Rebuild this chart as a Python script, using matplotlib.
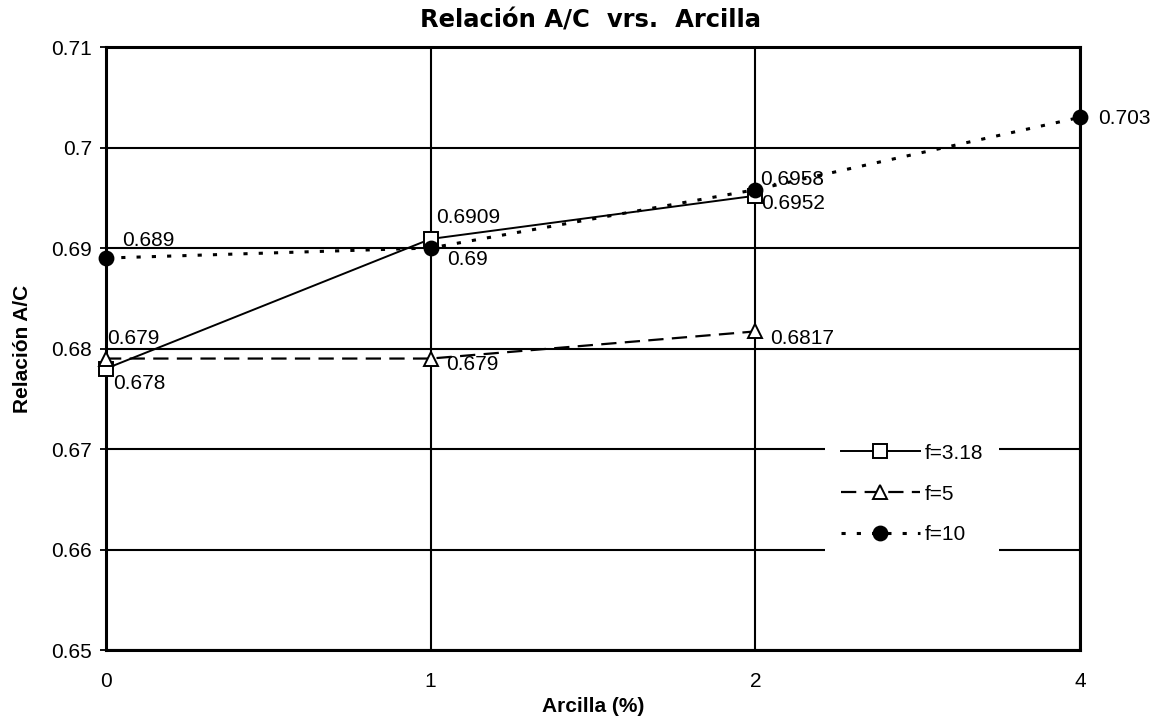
import matplotlib
matplotlib.use("Agg")
import matplotlib.pyplot as plt
from matplotlib.ticker import MultipleLocator, FuncFormatter

plt.rcParams["font.family"] = ["Liberation Sans", "DejaVu Sans"]
plt.rcParams["lines.scale_dashes"] = False

# clay content (%) and water/cement ratio for each fineness value
arcilla = ["0", "1", "2", "4"]
ac_f318 = [0.678, 0.6909, 0.6952]
ac_f5 = [0.679, 0.679, 0.6817]
ac_f10 = [0.689, 0.69, 0.6958, 0.703]

# where each value label sits relative to its marker (points)
offs_f318 = [(5, -14.4), (3.6, 11.5), (4.3, -9.4)]
offs_f5 = [(0.7, 10.8), (10.8, -7.9), (10.8, -9.4)]
offs_f10 = [(11.5, 8.6), (12.2, -12.2), (3.6, 3.6), (13, -5)]

series = [
    ("f=3.18", ac_f318, offs_f318, dict(ls="-", lw=1.4, marker="s", mfc="white")),
    ("f=5", ac_f5, offs_f5, dict(ls=(0, (11, 6)), lw=1.6, marker="^", mfc="white")),
    ("f=10", ac_f10, offs_f10, dict(ls=(0, (3, 8)), lw=2.2, marker="o", mfc="black")),
]

fig = plt.figure(figsize=(11.63, 7.19), dpi=100)
ax = fig.add_axes([106 / 1163, 69 / 719, 974 / 1163, 603 / 719])

for name, vals, offs, style in series:
    x = list(range(len(vals)))
    ax.plot(x, vals, color="black", ms=10, mec="black", mew=1.4,
            label=name, clip_on=False, zorder=3, **style)
    for xi, v, (dx, dy) in zip(x, vals, offs):
        ax.annotate(f"{v:g}", (xi, v), xytext=(dx, dy), textcoords="offset points",
                    ha="left", va="baseline", fontsize=15, zorder=4,
                    annotation_clip=False)

ax.set_xlim(0, len(arcilla) - 1)
ax.set_ylim(0.65, 0.71)
ax.set_xticks(range(len(arcilla)))
ax.set_xticklabels(arcilla)
ax.yaxis.set_major_locator(MultipleLocator(0.01))
ax.yaxis.set_major_formatter(FuncFormatter(lambda v, _: f"{v:g}"))

ax.set_axisbelow(True)
ax.grid(True, color="black", lw=1.5)
ax.tick_params(axis="x", length=0, pad=16, labelsize=15)
ax.tick_params(axis="y", length=4, width=1.3, pad=6, labelsize=15, direction="out")
for s in ax.spines.values():
    s.set_linewidth(2.2)

ax.set_ylabel("Relación A/C", fontsize=15, fontweight="bold", labelpad=14)
ax.set_xlabel("Arcilla (%)", fontsize=15, fontweight="bold", labelpad=4)
fig.text(590 / 1163, 1 - 27 / 719, "Relación A/C  vrs.  Arcilla", ha="center",
         va="baseline", fontsize=17.5, fontweight="bold", family="DejaVu Sans")

leg = ax.legend(loc="center", bbox_to_anchor=(0.8275, 0.2587), frameon=True,
                fancybox=False, edgecolor="white", facecolor="white", framealpha=1,
                fontsize=15, handlelength=3.8, handletextpad=0.25,
                labelspacing=1.05, borderpad=0.75)
leg.get_frame().set_linewidth(0)

fig.savefig("out.png", dpi=100)
plt.close(fig)
